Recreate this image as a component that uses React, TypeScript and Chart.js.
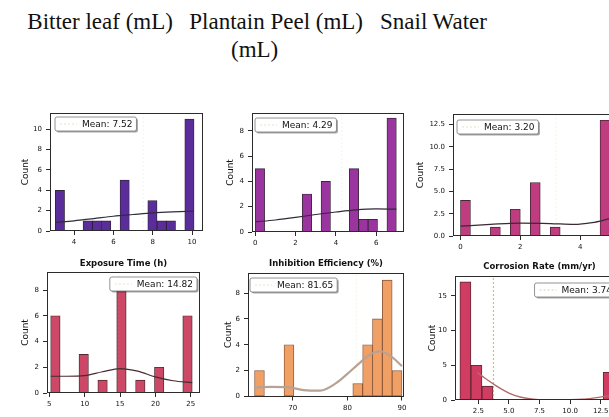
import React, { useEffect, useRef } from "react";
import { Chart, registerables } from "chart.js";
Chart.register(...registerables);

const FONT = "'DejaVu Sans', 'Liberation Sans', sans-serif";
Chart.defaults.font.family = FONT;

// ---------------- text ----------------
const headerLine1 = ["Bitter leaf (mL)", "Plantain Peel (mL)", "Snail Water"];
const headerLine2 = "(mL)";
const panelTitles = ["", "", "", "Exposure Time (h)", "Inhibition Efficiency (%)", "Corrosion Rate (mm/yr)"];
const yAxisLabel = "Count";

// ---------------- data ----------------
// histogram counts per equal-width bin, and the data range the bins cover
const bitterCounts = [4, 0, 0, 1, 1, 1, 0, 5, 0, 0, 3, 1, 1, 0, 11];
const bitterRange = [3.05, 10.1];
const bitterMean = 7.52;
const bitterKdeX = [3.05, 4.0, 5.0, 6.0, 7.0, 8.0, 9.0, 10.1];
const bitterKdeY = [0.85, 1.0, 1.22, 1.45, 1.62, 1.78, 1.88, 1.95];

const plantainCounts = [5, 0, 0, 0, 0, 3, 0, 4, 0, 0, 5, 1, 1, 0, 9];
const plantainRange = [0, 7];
const plantainMean = 4.29;
const plantainKdeX = [0, 1, 2, 3, 4, 5, 6, 7];
const plantainKdeY = [0.8, 0.95, 1.15, 1.38, 1.58, 1.75, 1.82, 1.8];

const snailCounts = [4, 0, 0, 1, 0, 3, 0, 6, 0, 1, 0, 0, 0, 0, 13];
const snailRange = [0, 5];
const snailMean = 3.2;
const snailKdeX = [0, 1, 2, 3, 3.8, 4.4, 5];
const snailKdeY = [1.1, 1.3, 1.45, 1.4, 1.3, 1.5, 1.95];

const exposureCounts = [6, 0, 0, 3, 0, 1, 0, 8, 0, 1, 0, 2, 0, 0, 6];
const exposureRange = [5.2, 25.2];
const exposureMean = 14.82;
const exposureKdeX = [5.2, 7.5, 10, 12.5, 15, 17.5, 20, 22.5, 25.2];
const exposureKdeY = [1.3, 1.3, 1.35, 1.65, 1.9, 1.7, 1.25, 0.95, 0.8];

const inhibCounts = [2, 0, 0, 4, 0, 0, 0, 0, 0, 0, 1, 4, 6, 9, 2];
const inhibRange = [63, 90];
const inhibMean = 81.65;
const inhibKdeX = [63, 66, 69, 72, 75, 78, 80, 82, 84, 86, 88, 90];
const inhibKdeY = [0.7, 0.75, 0.72, 0.5, 0.45, 1.05, 1.75, 2.5, 3.2, 3.5, 3.1, 2.35];

const corrCounts = [17, 5, 2, 0, 0, 0, 0, 0, 0, 0, 0, 0, 0, 4];
const corrRange = [1, 13.6];
const corrMean = 3.74;
const corrKdeX = [2.4, 3, 4, 5, 6, 7, 8, 9, 10, 11, 12, 13, 14];
const corrKdeY = [4.0, 3.2, 2.0, 1.0, 0.4, 0.12, 0.03, 0.02, 0.03, 0.1, 0.3, 0.55, 0.7];

// tick labels
const bitterXTicks = [4, 6, 8, 10];
const bitterYTicks = [0, 2, 4, 6, 8, 10];
const plantainXTicks = [0, 2, 4, 6];
const plantainYTicks = [0, 2, 4, 6, 8];
const snailXTicks = [0, 2, 4];
const snailYTicks = [0, 2.5, 5, 7.5, 10, 12.5];
const exposureXTicks = [5, 10, 15, 20, 25];
const exposureYTicks = [0, 2, 4, 6, 8];
const inhibXTicks = [70, 80, 90];
const inhibYTicks = [0, 2, 4, 6, 8];
const corrXTicks = [2.5, 5, 7.5, 10, 12.5];
const corrYTicks = [0, 5, 10, 15];

const panelsData = [
  { counts: bitterCounts, range: bitterRange, mean: bitterMean, kdeX: bitterKdeX, kdeY: bitterKdeY, xTicks: bitterXTicks, yTicks: bitterYTicks, xDec: 0, yDec: 0 },
  { counts: plantainCounts, range: plantainRange, mean: plantainMean, kdeX: plantainKdeX, kdeY: plantainKdeY, xTicks: plantainXTicks, yTicks: plantainYTicks, xDec: 0, yDec: 0 },
  { counts: snailCounts, range: snailRange, mean: snailMean, kdeX: snailKdeX, kdeY: snailKdeY, xTicks: snailXTicks, yTicks: snailYTicks, xDec: 0, yDec: 1 },
  { counts: exposureCounts, range: exposureRange, mean: exposureMean, kdeX: exposureKdeX, kdeY: exposureKdeY, xTicks: exposureXTicks, yTicks: exposureYTicks, xDec: 0, yDec: 0 },
  { counts: inhibCounts, range: inhibRange, mean: inhibMean, kdeX: inhibKdeX, kdeY: inhibKdeY, xTicks: inhibXTicks, yTicks: inhibYTicks, xDec: 0, yDec: 0 },
  { counts: corrCounts, range: corrRange, mean: corrMean, kdeX: corrKdeX, kdeY: corrKdeY, xTicks: corrXTicks, yTicks: corrYTicks, xDec: 1, yDec: 0 },
];

// ---------------- layout & style ----------------
const layouts = [
  { L: 50, T: 113, R: 202.7, B: 231, labelX: 25, xMin: 2.78, xMax: 10.54, yMax: 11.6, side: "left", dx: 5, dy: 4 },
  { L: 252, T: 113, R: 404, B: 232, labelX: 230, xMin: -0.16, xMax: 7.38, yMax: 9.4, side: "left", dx: 3, dy: 5 },
  { L: 453, T: 114, R: 617.5, B: 236, labelX: 420, xMin: -0.25, xMax: 5.25, yMax: 13.7, side: "left", dx: 4, dy: 6 },
  { L: 47, T: 272, R: 200, B: 393, labelX: 25, xMin: 4.68, xMax: 26.3, yMax: 9.4, titleY: 263.5, side: "right", dx: 3, dy: 5 },
  { L: 248, T: 273, R: 404, B: 396.5, labelX: 228, xMin: 61.8, xMax: 90.37, yMax: 9.55, titleY: 264, side: "left", dx: 2, dy: 5 },
  { L: 455, T: 276, R: 624, B: 400, labelX: 432, xMin: 0.6, xMax: 14.4, yMax: 17.85, titleY: 266.5, side: "right", dx: 8, dy: 7 },
];

const barColors = ["#5a2d9a", "#9a35a0", "#c03c80", "#cc4866", "#f0a064", "#d03c62"];
const barEdges = ["rgba(30,15,40,0.9)", "rgba(40,15,40,0.9)", "rgba(50,15,30,0.9)", "rgba(60,20,25,0.9)", "rgba(130,70,35,0.9)", "rgba(60,15,25,0.9)"];
const kdeColors = ["#2e2e3e", "#33283a", "#3a2a35", "#4a2a30", "#b8a294", "#b46a6a"];
const kdeWidths = [1.2, 1.2, 1.2, 1.2, 2.2, 1.4];
const meanColors = ["rgba(185,180,90,0.12)", "rgba(185,180,90,0.12)", "rgba(185,180,90,0.12)", "rgba(185,180,90,0.12)", "rgba(185,180,90,0.12)", "rgba(190,185,90,0.85)"];
const handleColors = ["rgba(185,180,90,0.35)", "rgba(185,180,90,0.35)", "rgba(185,180,90,0.35)", "rgba(185,180,90,0.35)", "rgba(185,180,90,0.35)", "rgba(190,185,90,0.6)"];

const Y_TITLE_SIZE = 9;
const TITLE_SIZE = 8.5;
const X_AXIS_H = 18;

function geometry(lay: any) {
  const cl = Math.round(lay.labelX - (Y_TITLE_SIZE * 1.2) / 2);
  const yW = lay.L - cl;
  const titleLH = TITLE_SIZE * 1.2;
  let ct: number, padTop = 0, tPadTop = 0, tPadBottom = 0;
  if (lay.titleY != null) {
    ct = Math.round(lay.titleY - titleLH / 2 - 2);
    tPadTop = lay.titleY - titleLH / 2 - ct;
    tPadBottom = lay.T - lay.titleY - titleLH / 2;
  } else {
    ct = Math.round(lay.T - 10);
    padTop = lay.T - ct;
  }
  const cw = Math.ceil(lay.R - cl + 8);
  const padRight = cw - (lay.R - cl);
  const ch = Math.ceil(lay.B - ct + X_AXIS_H);
  const padBottom = ch - (lay.B - ct) - X_AXIS_H;
  return { cl, ct, cw, ch, yW, padTop, padRight, padBottom, tPadTop, tPadBottom };
}

function decorPlugin(lay: any, meanText: string, handleColor: string) {
  return {
    id: "decor",
    afterDatasetsDraw(chart: any) {
      const { ctx, chartArea: a } = chart;
      ctx.save();
      ctx.strokeStyle = "#2b2b2b";
      ctx.lineWidth = 1;
      const l = Math.round(a.left) + 0.5, t = Math.round(a.top) + 0.5;
      const r = Math.round(a.right) - 0.5, b = Math.round(a.bottom) - 0.5;
      ctx.strokeRect(l, t, r - l, b - t);

      ctx.font = `9px ${FONT}`;
      const tw = ctx.measureText(meanText).width;
      const bw = 27 + tw + 4, bh = 14;
      const x0 = lay.side === "left" ? a.left + lay.dx : a.right - lay.dx - bw;
      const y0 = a.top + lay.dy;
      ctx.fillStyle = "rgba(0,0,0,0.35)";
      ctx.beginPath();
      ctx.roundRect(x0 + 1.5, y0 + 1.5, bw, bh, 2);
      ctx.fill();
      ctx.fillStyle = "#ffffff";
      ctx.beginPath();
      ctx.roundRect(x0, y0, bw, bh, 2);
      ctx.fill();
      ctx.strokeStyle = "#777";
      ctx.lineWidth = 0.8;
      ctx.stroke();
      ctx.setLineDash([2, 2]);
      ctx.strokeStyle = handleColor;
      ctx.lineWidth = 1.2;
      ctx.beginPath();
      ctx.moveTo(x0 + 5, y0 + bh / 2);
      ctx.lineTo(x0 + 22, y0 + bh / 2);
      ctx.stroke();
      ctx.setLineDash([]);
      ctx.fillStyle = "#111";
      ctx.textBaseline = "middle";
      ctx.textAlign = "left";
      ctx.fillText(meanText, x0 + 27, y0 + bh / 2 + 0.5);
      ctx.restore();
    },
  };
}

function Panel({ idx }: { idx: number }) {
  const ref = useRef<HTMLCanvasElement>(null);
  const p = panelsData[idx];
  const lay: any = layouts[idx];
  const g = geometry(lay);

  useEffect(() => {
    const w = (p.range[1] - p.range[0]) / p.counts.length;
    const bars = p.counts.map((c, i) => ({ x: p.range[0] + (i + 0.5) * w, y: c }));
    const kde = p.kdeX.map((x, i) => ({ x, y: p.kdeY[i] }));
    const meanLine = [{ x: p.mean, y: 0 }, { x: p.mean, y: lay.yMax }];
    const meanText = `Mean: ${p.mean.toFixed(2)}`;
    const title = panelTitles[idx];

    const chart = new Chart(ref.current as HTMLCanvasElement, {
      type: "bar",
      data: {
        datasets: [
          {
            type: "line",
            data: kde,
            borderColor: kdeColors[idx],
            borderWidth: kdeWidths[idx],
            pointRadius: 0,
            cubicInterpolationMode: "monotone",
            fill: false,
            order: 0,
          } as any,
          {
            type: "line",
            data: meanLine,
            borderColor: meanColors[idx],
            borderWidth: 1.2,
            borderDash: [2, 2],
            pointRadius: 0,
            fill: false,
            order: 1,
          } as any,
          {
            type: "bar",
            data: bars,
            backgroundColor: barColors[idx],
            borderColor: barEdges[idx],
            borderWidth: (c: any) => (c.raw && c.raw.y > 0 ? 0.9 : 0),
            borderSkipped: false,
            barPercentage: 1,
            categoryPercentage: 1,
            order: 2,
          } as any,
        ],
      },
      options: {
        responsive: false,
        animation: false,
        events: [],
        layout: { padding: { top: g.padTop, right: g.padRight, bottom: g.padBottom, left: 0 } },
        plugins: {
          legend: { display: false },
          tooltip: { enabled: false },
          title: {
            display: !!title,
            text: title,
            fullSize: false,
            color: "#111",
            font: { size: TITLE_SIZE, weight: "bold", family: FONT },
            padding: { top: g.tPadTop, bottom: g.tPadBottom },
          },
        },
        scales: {
          x: {
            type: "linear",
            min: lay.xMin,
            max: lay.xMax,
            offset: false,
            grid: { display: true, offset: false, drawOnChartArea: false, drawTicks: true, tickLength: 4, color: "#2b2b2b" },
            border: { display: false },
            ticks: {
              autoSkip: false,
              maxRotation: 0,
              padding: 3,
              color: "#111",
              font: { size: 7, family: FONT },
              callback: (v: any) => Number(v).toFixed(p.xDec),
            },
            afterBuildTicks: (s: any) => {
              s.ticks = p.xTicks.map((v) => ({ value: v }));
            },
            afterFit: (s: any) => {
              s.height = X_AXIS_H;
            },
          },
          y: {
            type: "linear",
            min: 0,
            max: lay.yMax,
            grid: { display: true, drawOnChartArea: false, drawTicks: true, tickLength: 4, color: "#2b2b2b" },
            border: { display: false },
            title: { display: true, text: yAxisLabel, color: "#111", font: { size: Y_TITLE_SIZE, family: FONT }, padding: 0 },
            ticks: {
              autoSkip: false,
              padding: 4,
              color: "#111",
              font: { size: 7, family: FONT },
              callback: (v: any) => Number(v).toFixed(p.yDec),
            },
            afterBuildTicks: (s: any) => {
              s.ticks = p.yTicks.map((v) => ({ value: v }));
            },
            afterFit: (s: any) => {
              s.width = g.yW;
            },
          },
        },
      } as any,
      plugins: [decorPlugin(lay, meanText, handleColors[idx]) as any],
    });
    return () => chart.destroy();
  }, []);

  return (
    <canvas
      ref={ref}
      width={g.cw}
      height={g.ch}
      style={{ position: "absolute", left: g.cl, top: g.ct, width: g.cw, height: g.ch }}
    />
  );
}

const headerStyle: React.CSSProperties = {
  position: "absolute",
  fontFamily: "'Liberation Serif', 'Times New Roman', serif",
  fontSize: 23,
  lineHeight: "26px",
  color: "#111",
  whiteSpace: "nowrap",
};

const headerLefts = [27.3, 189.3, 380];

export default function App() {
  return (
    <div style={{ position: "fixed", left: 0, top: 0, width: 609, height: 417, overflow: "hidden", background: "#fff" }}>
      {headerLine1.map((t, i) => (
        <div key={i} style={{ ...headerStyle, left: headerLefts[i], top: 8.5 }}>
          {t}
        </div>
      ))}
      <div style={{ ...headerStyle, left: 231, top: 37.2 }}>{headerLine2}</div>
      {panelsData.map((_, i) => (
        <Panel key={i} idx={i} />
      ))}
    </div>
  );
}
